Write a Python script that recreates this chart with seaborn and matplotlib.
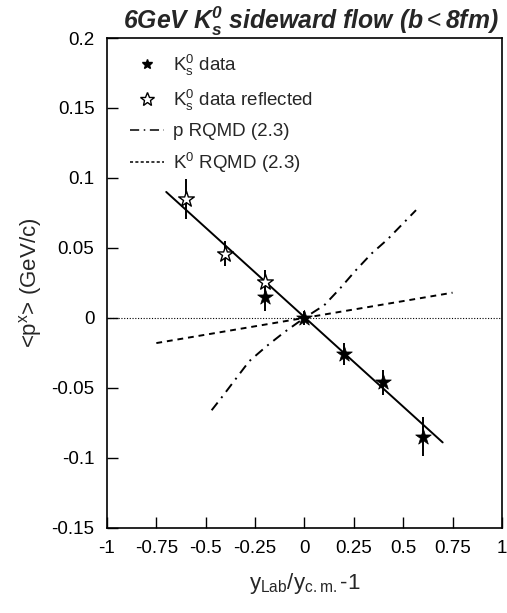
import numpy as np
import pandas as pd
import seaborn as sns
import matplotlib.pyplot as plt
from matplotlib.lines import Line2D

# K0s data (filled stars)
data_x = [-0.2, 0.0, 0.2, 0.4, 0.6]
data_y = [0.015, 0.0, -0.026, -0.046, -0.085]
data_err = [0.010, 0.005, 0.008, 0.009, 0.014]

# reflected data (open stars)
refl_x = [-0.6, -0.4, -0.2]
refl_y = [0.085, 0.046, 0.026]
refl_err = [0.014, 0.009, 0.008]

# linear fit through data
fit_x = [-0.7, 0.7]
fit_y = [0.090, -0.089]

# p RQMD (2.3)
p_x = [-0.47, -0.42, -0.35, -0.28, -0.19, -0.1, 0.0, 0.1, 0.18, 0.26, 0.34, 0.42, 0.565]
p_y = [-0.066, -0.057, -0.044, -0.031, -0.020, -0.010, 0.0, 0.009, 0.021, 0.034, 0.046, 0.056, 0.077]

# K0 RQMD (2.3)
k_x = [-0.75, -0.25, 0.25, 0.75]
k_y = [-0.018, -0.006, 0.006, 0.018]

sns.set_style('ticks')
plt.rcParams['font.family'] = ['Liberation Sans', 'DejaVu Sans']
plt.rcParams['mathtext.fontset'] = 'custom'
plt.rcParams['mathtext.rm'] = 'Liberation Sans'
plt.rcParams['mathtext.it'] = 'Liberation Sans:italic'
plt.rcParams['mathtext.bf'] = 'Liberation Sans:bold'
plt.rcParams['mathtext.bfit'] = 'Liberation Sans:italic:bold'

fig = plt.figure(figsize=(5.07, 6.13), dpi=100)
ax = fig.add_axes([0.211, 0.139, 0.779, 0.799])

ax.axhline(0, color='black', lw=0.8, ls=(0, (1, 1.5)))

sns.lineplot(x=fit_x, y=fit_y, color='black', lw=1.4, ax=ax)
sns.lineplot(x=p_x, y=p_y, color='black', lw=1.4, ax=ax, sort=False,
             linestyle=(0, (5, 3, 1, 3)))
sns.lineplot(x=k_x, y=k_y, color='black', lw=1.4, ax=ax, linestyle=(0, (3, 2.5)))

ax.errorbar(data_x, data_y, yerr=data_err, fmt='none', ecolor='black', elinewidth=1.4)
ax.errorbar(refl_x, refl_y, yerr=refl_err, fmt='none', ecolor='black', elinewidth=1.4)
sns.scatterplot(x=data_x, y=data_y, marker='*', s=140, color='black',
                edgecolor='black', linewidth=0.5, ax=ax, zorder=5)
sns.scatterplot(x=refl_x, y=refl_y, marker='*', s=140, facecolor='white',
                edgecolor='black', linewidth=1.0, ax=ax, zorder=5)

ax.set_xlim(-1, 1)
ax.set_ylim(-0.15, 0.2)
ax.set_xticks([-1, -0.75, -0.5, -0.25, 0, 0.25, 0.5, 0.75, 1])
ax.set_xticklabels(['-1', '-0.75', '-0.5', '-0.25', '0', '0.25', '0.5', '0.75', '1'])
ax.set_yticks([-0.15, -0.1, -0.05, 0, 0.05, 0.1, 0.15, 0.2])
ax.set_yticklabels(['-0.15', '-0.1', '-0.05', '0', '0.05', '0.1', '0.15', '0.2'])
ax.tick_params(direction='in', length=8, width=1, labelsize=13.5, pad=9, colors='black')
for s in ax.spines.values():
    s.set_linewidth(1.2)
    s.set_color('black')

ax.set_xlabel(r'y$_{\rm Lab}$/y$_{\rm c.m.}$-1', fontsize=16, labelpad=10)
ax.set_ylabel(r'<p$^{\rm x}$> (GeV/c)', fontsize=16, labelpad=5)
ax.set_title(r'6GeV $\mathbfit{K}_{\mathbfit{s}}^{\mathbfit{0}}$ sideward flow (b$<$8fm)',
             fontsize=17.8, fontweight='bold', fontstyle='italic', pad=5, x=0.515)

handles = [
    Line2D([], [], marker='*', color='black', ls='none', markersize=7),
    Line2D([], [], marker='*', color='black', markerfacecolor='white', ls='none', markersize=10),
    Line2D([], [], color='black', lw=1.1, linestyle=(0, (6, 3, 1, 3))),
    Line2D([], [], color='black', lw=1.1, linestyle=(0, (2, 1.5))),
]
labels = [r'K$_{\rm s}^{0}$ data', r'K$_{\rm s}^{0}$ data reflected',
          'p RQMD (2.3)', r'K$^{0}$ RQMD (2.3)']
ax.legend(handles, labels, loc='upper left', frameon=False, fontsize=13.5,
          bbox_to_anchor=(0.015, 1.005), handlelength=1.8, labelspacing=0.55,
          handletextpad=0.5)

fig.savefig('out.png', dpi=100)
